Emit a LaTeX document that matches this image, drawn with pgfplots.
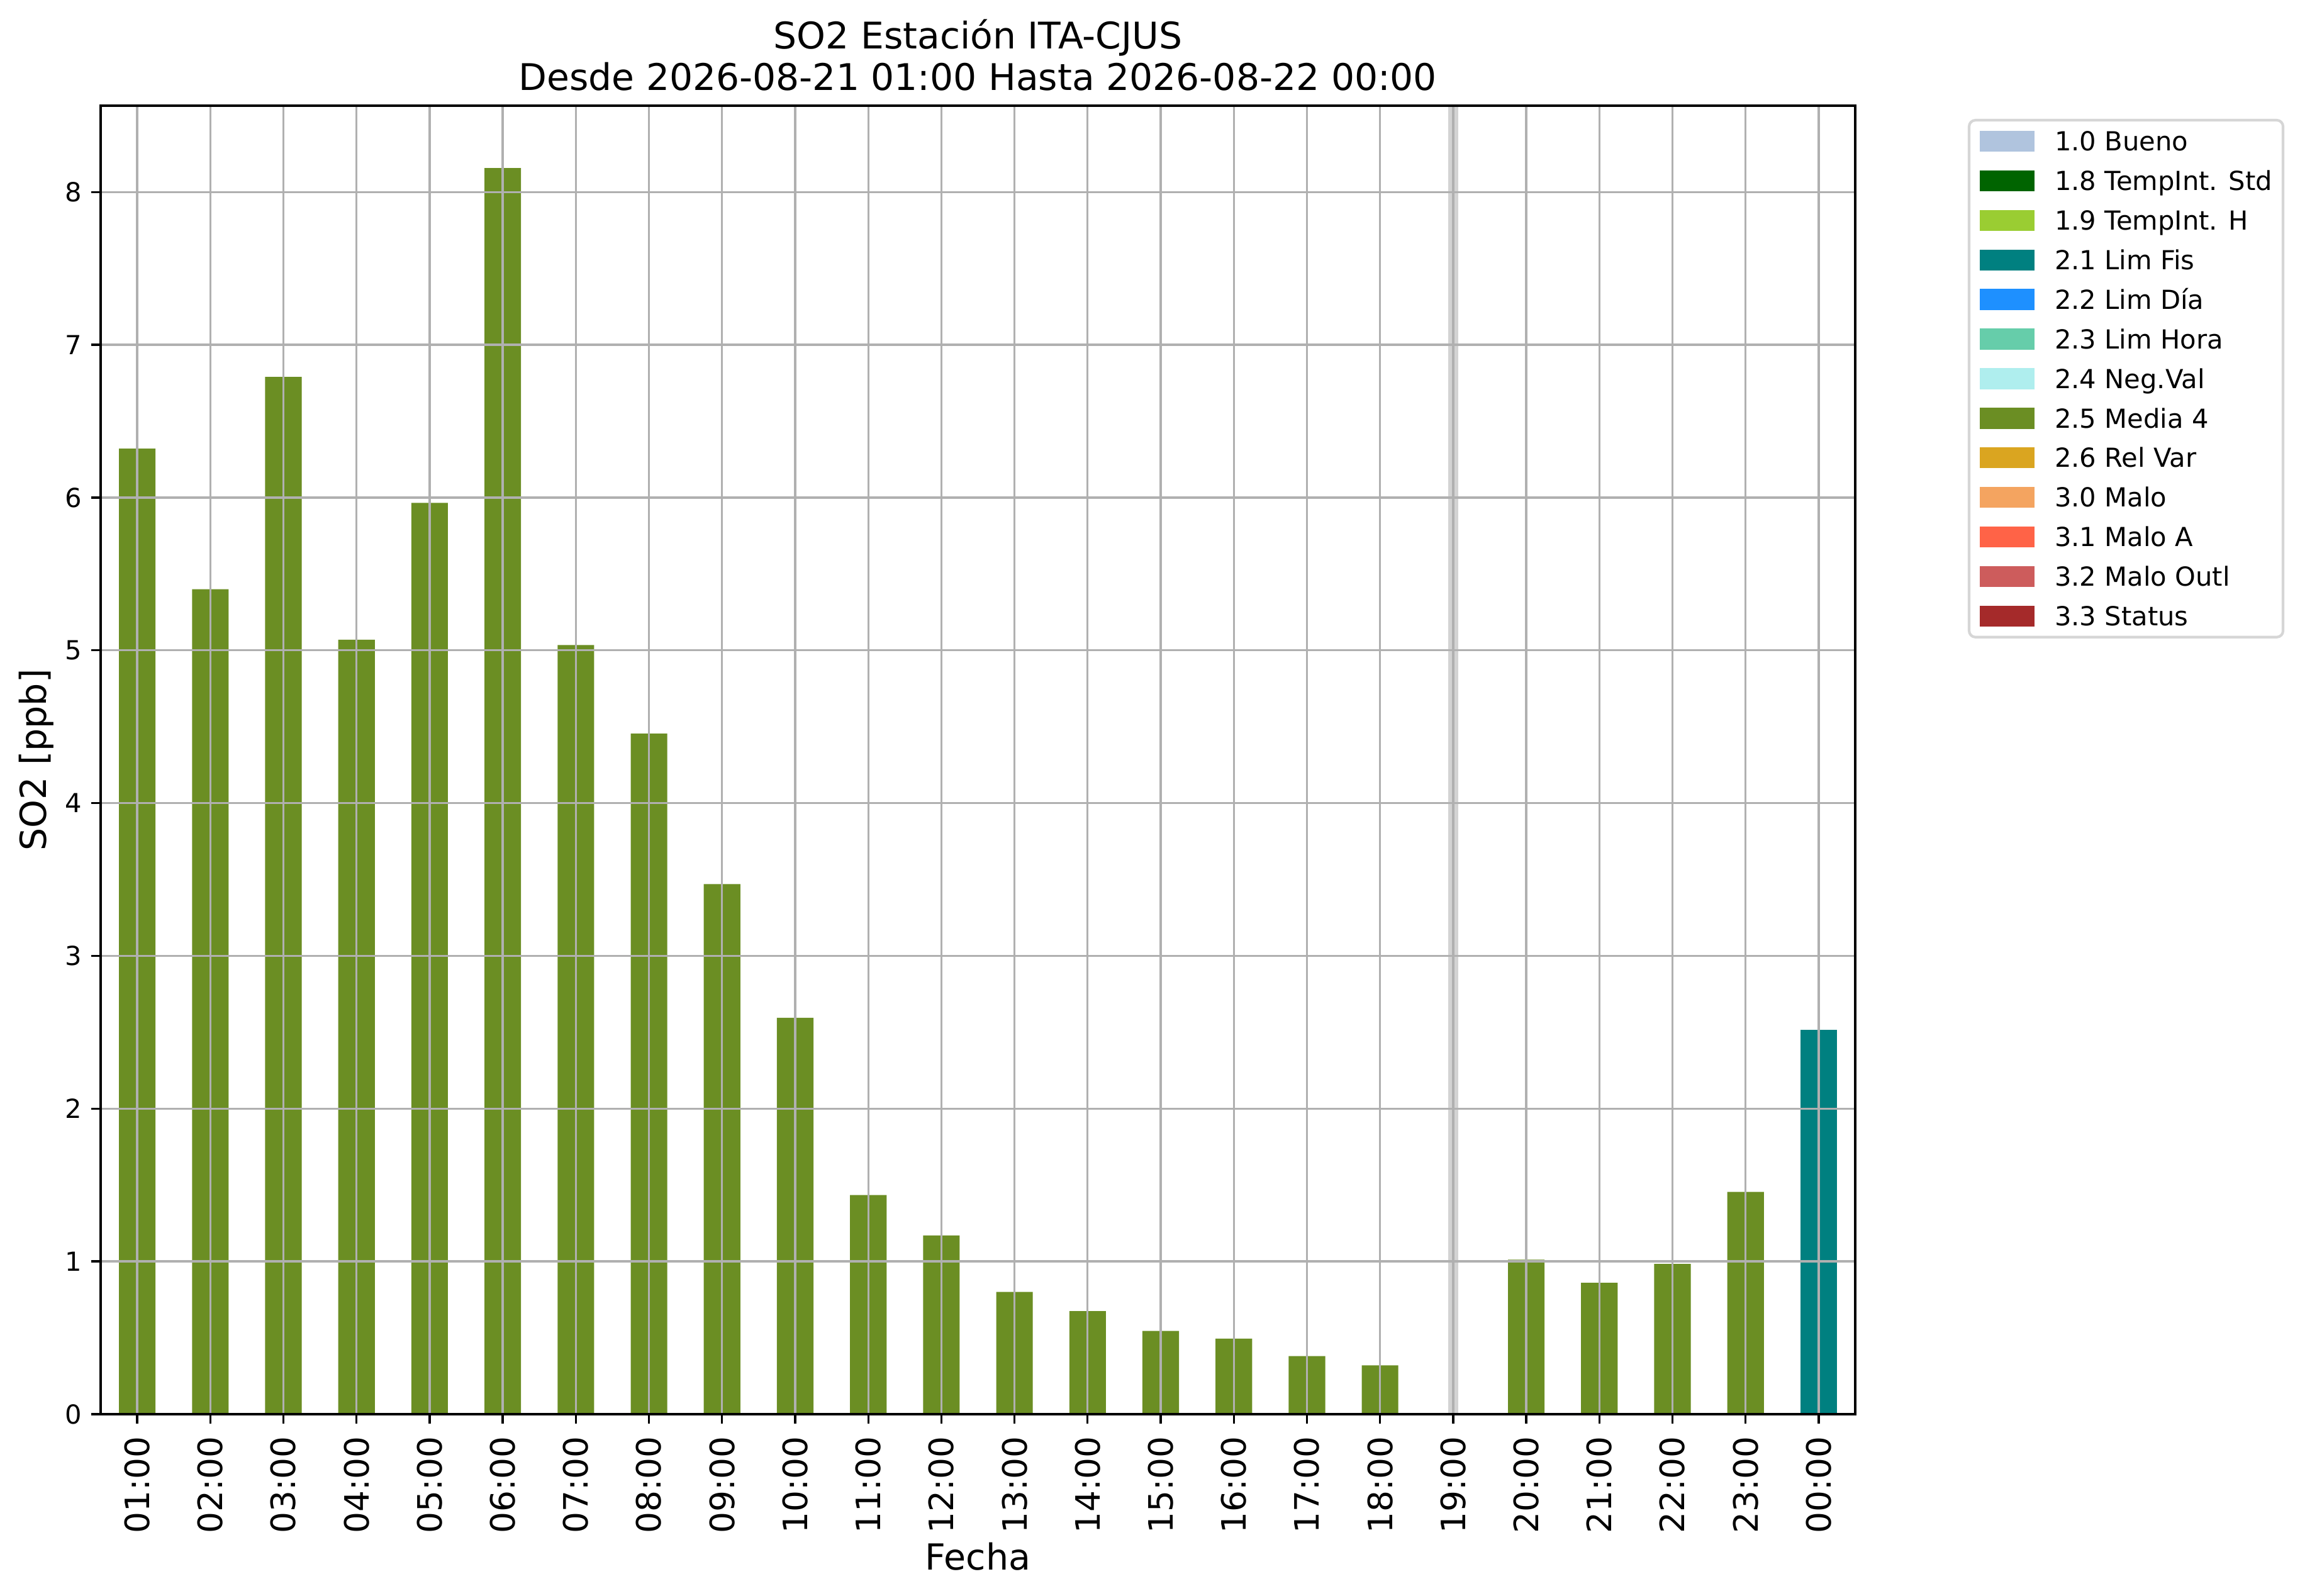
\documentclass[border=0pt]{standalone}
\usepackage{fontspec}
\setmainfont{DejaVu Sans}
\usepackage{pgfplots}
\pgfplotsset{compat=1.18}
\definecolor{lightsteelblue}{HTML}{B0C4DE}
\definecolor{darkgreenc}{HTML}{006400}
\definecolor{yellowgreen}{HTML}{9ACD32}
\definecolor{tealc}{HTML}{008080}
\definecolor{dodgerblue}{HTML}{1E90FF}
\definecolor{mediumaquamarine}{HTML}{66CDAA}
\definecolor{paleturquoise}{HTML}{AFEEEE}
\definecolor{olivedrab}{HTML}{6B8E23}
\definecolor{goldenrod}{HTML}{DAA520}
\definecolor{sandybrown}{HTML}{F4A460}
\definecolor{tomato}{HTML}{FF6347}
\definecolor{indianred}{HTML}{CD5C5C}
\definecolor{brownc}{HTML}{A52A2A}
\definecolor{gridgray}{HTML}{B0B0B0}
\definecolor{bandgray}{HTML}{D3D3D3}
\definecolor{legframe}{HTML}{D6D6D6}
\newcommand{\legpatch}[1]{\addlegendimage{legend image code/.code={\fill[#1,sharp corners] (0pt,-3.5pt) rectangle (19.9pt,3.5pt);}}}

\pgfplotstableread{
x y
0 6.32
1 5.40
2 6.79
3 5.07
4 5.965
5 8.157
6 5.035
7 4.455
8 3.47
9 2.595
10 1.435
11 1.17
12 0.80
13 0.675
14 0.545
15 0.495
16 0.38
17 0.32
19 1.012
20 0.86
21 0.984
22 1.455
}\mediafour
\pgfplotstableread{
x y
23 2.515
}\limfis
\pgfplotstableread{
x y
18 8.565
}\gap

\begin{document}
\begin{tikzpicture}
\fill[white] (0,0) rectangle (877.44pt,608.64pt);
\path[use as bounding box] (0,0) rectangle (877.44pt,608.64pt);
\begin{axis}[
  name=ax,
  at={(38.4pt,69.12pt)}, anchor=south west,
  width=669.36pt, height=499.2pt, scale only axis,
  xmin=-0.5, xmax=23.5, ymin=0, ymax=8.565,
  xtick={0,...,23},
  xticklabels={01:00,02:00,03:00,04:00,05:00,06:00,07:00,08:00,09:00,10:00,11:00,12:00,13:00,14:00,15:00,16:00,17:00,18:00,19:00,20:00,21:00,22:00,23:00,00:00},
  ytick={0,1,...,8},
  /pgf/number format/assume math mode=true,
  tick align=outside, tick pos=left,
  major tick length=3.5pt,
  tick style={black, line width=0.8pt},
  axis line style={black, line width=0.8pt},
  grid=major,
  major grid style={gridgray, line width=0.8pt},
  axis on top,
  xticklabel style={rotate=90, anchor=east, inner sep=0pt, font=\fontsize{12.8}{15}\selectfont},
  yticklabel style={anchor=east, inner sep=0pt, font=\fontsize{10}{12}\selectfont},
  xticklabel shift=4.9pt, yticklabel shift=3.5pt,
  legend style={
    at={(1.06417,0.9899)}, anchor=north west,
    draw=legframe, line width=1pt, rounded corners=2.4pt,
    font=\fontsize{10}{12}\selectfont,
    inner xsep=4.1pt, inner ysep=4pt,
    row sep=7.1pt,
    nodes={inner sep=0pt, text height=7.3pt, text depth=0pt},
    /tikz/every odd column/.append style={column sep=7.68pt},
  },
  legend cell align=left,
]
\addplot[ybar, bar width=0.138, bar shift=0pt, fill=bandgray, draw=none, forget plot] table[x=x,y=y] {\gap};
\addplot[ybar, bar width=0.5, bar shift=0pt, fill=olivedrab, draw=none, forget plot] table[x=x,y=y] {\mediafour};
\addplot[ybar, bar width=0.5, bar shift=0pt, fill=tealc, draw=none, forget plot] table[x=x,y=y] {\limfis};
\legpatch{lightsteelblue}
\legpatch{darkgreenc}
\legpatch{yellowgreen}
\legpatch{tealc}
\legpatch{dodgerblue}
\legpatch{mediumaquamarine}
\legpatch{paleturquoise}
\legpatch{olivedrab}
\legpatch{goldenrod}
\legpatch{sandybrown}
\legpatch{tomato}
\legpatch{indianred}
\legpatch{brownc}
\legend{1.0 Bueno,1.8 TempInt. Std,1.9 TempInt. H,2.1 Lim Fis,2.2 Lim Día,2.3 Lim Hora,2.4 Neg.Val,2.5 Media 4,2.6 Rel Var,3.0 Malo,3.1 Malo A,3.2 Malo Outl,3.3 Status}
\end{axis}
\node[anchor=base, font=\fontsize{14}{17}\selectfont] at (373.08pt,589.92pt) {SO2 Estación ITA-CJUS};
\node[anchor=base, font=\fontsize{14}{17}\selectfont] at (373.08pt,574.08pt) {Desde 2026-08-21 01:00 Hasta 2026-08-22 00:00};
\node[anchor=base, font=\fontsize{13.7}{16}\selectfont] at (373.08pt,9.84pt) {Fecha};
\node[rotate=90, anchor=base, font=\fontsize{13.7}{16}\selectfont] at (17.52pt,318.72pt) {SO2 [ppb]};
\end{tikzpicture}
\end{document}
